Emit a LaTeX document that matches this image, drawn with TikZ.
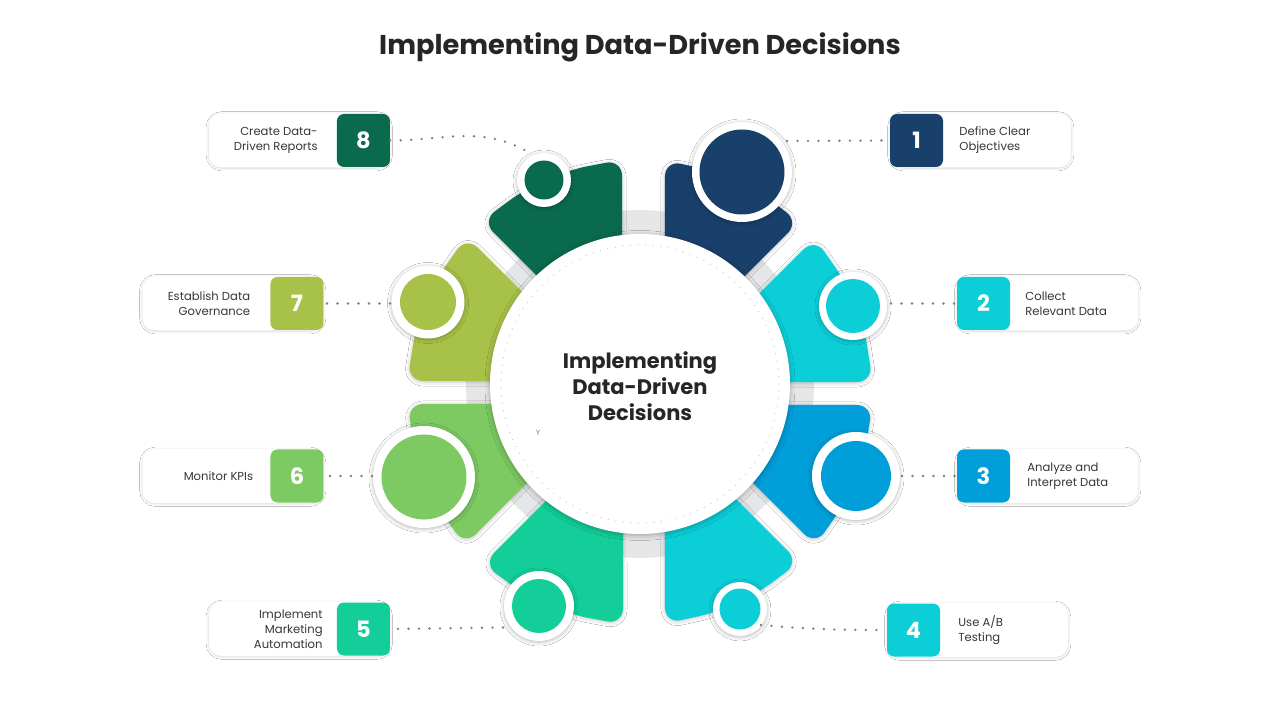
\documentclass[tikz,border=0pt]{standalone}
\usepackage{fontspec}
\setmainfont{Poppins}
\usetikzlibrary{calc,shadows.blur}
\definecolor{cA}{RGB}{25,63,107}
\definecolor{cB}{RGB}{12,206,215}
\definecolor{cC}{RGB}{0,159,217}
\definecolor{cD}{RGB}{12,206,215}
\definecolor{cE}{RGB}{19,206,152}
\definecolor{cF}{RGB}{125,201,98}
\definecolor{cG}{RGB}{168,193,72}
\definecolor{cH}{RGB}{10,106,78}
\definecolor{ringgray}{RGB}{229,230,232}
\definecolor{txt}{RGB}{55,55,55}
\definecolor{ttl}{RGB}{38,38,38}
\definecolor{dotc}{RGB}{125,125,132}
\definecolor{cdot}{RGB}{200,200,204}
\newcommand\mypetal[5]{%
  \pgfmathsetmacro\aA{#2-asin(#3/233)}%
  \pgfmathsetmacro\aB{#4+asin(#5/233)}%
  \pgfmathsetmacro\aM{(\aA-\aB)/3}%
  \fill[#1, petalstyle] ($(#2:60)+(#2-90:#3)$) -- (\aA:233) -- ({\aA-\aM}:233) -- ({\aA-2*\aM}:233) -- (\aB:233) -- ($(#4:60)+(#4+90:#5)$) -- cycle;
}
\begin{document}
\begin{tikzpicture}[x=1pt,y=1pt,
  lbox/.style={rectangle, rounded corners=13pt, fill=white, minimum width=181pt, minimum height=54pt, inner sep=0pt,
    blur shadow={shadow xshift=0pt, shadow yshift=-0.8pt, shadow opacity=16, shadow blur radius=2.6pt}},
  numsq/.style={rectangle, rounded corners=7pt, minimum size=53pt, inner sep=0pt, text=white, font=\fontsize{22.5}{22.5}\selectfont\bfseries},
  ltext/.style={text=txt, font=\fontsize{11.6}{15}\selectfont, inner sep=0pt},
  ringw/.style={circle, fill=white, inner sep=0pt,
    blur shadow={shadow xshift=0pt, shadow yshift=-1pt, shadow opacity=30, shadow blur radius=4pt}},
  disc/.style={circle, inner sep=0pt},
  dotline/.style={draw=dotc, line width=2.6pt, line cap=round, dash pattern=on 0pt off 10.5pt},
  petalstyle/.style={rounded corners=16pt,
    blur shadow={shadow xshift=0pt, shadow yshift=-1pt, shadow opacity=22, shadow blur radius=4pt}}
]
\useasboundingbox (-640,-328) rectangle (640,392);
\fill[white] (-640,-328) rectangle (640,392);

% title
\node[text=ttl, font=\fontsize{27.2}{32}\selectfont\bfseries] (title) at (0,344.5) {Implementing Data-Driven Decisions};

% gray ring
\node[circle, fill=ringgray, minimum size=348pt, inner sep=0pt] (ring) at (0,8) {};

% petals
\mypetal{cA}{90}{25}{45}{7.8}
\mypetal{cB}{45}{14.8}{0}{10}
\mypetal{cC}{0}{13}{-45}{15.6}
\mypetal{cD}{-45}{7.8}{-90}{25}
\mypetal{cE}{-90}{17}{-135}{10.6}
\mypetal{cF}{-135}{15.6}{-180}{12}
\mypetal{cG}{180}{11}{135}{12.7}
\mypetal{cH}{135}{9.2}{90}{18}

% main white circle
\node[circle, fill=white, minimum size=300pt, inner sep=0pt,
  blur shadow={shadow xshift=0pt, shadow yshift=-1.5pt, shadow opacity=30, shadow blur radius=5pt}] (main) at (0,8) {};
\draw[cdot, line width=1.3pt, line cap=round, dash pattern=on 0pt off 7.6pt] (main.center) circle (139);
\node[text=ttl, font=\fontsize{21}{26}\selectfont\bfseries, align=center] (ctext) at (0,6) {Implementing\\Data-Driven\\Decisions};
\node[text=gray, font=\fontsize{7.5}{8}\selectfont] (ysmall) at (-102,-41) {Y};

% petal circles
\node[ringw, minimum size=100pt] (r1) at (102,220) {};
\node[disc, fill=cA, minimum size=85pt] at (r1) {};
\node[ringw, minimum size=68pt] (r2) at (213,86) {};
\node[disc, fill=cB, minimum size=54pt] at (r2) {};
\node[ringw, minimum size=88pt] (r3) at (216,-84) {};
\node[disc, fill=cC, minimum size=70pt] at (r3) {};
\node[ringw, minimum size=54pt] (r4) at (100,-217) {};
\node[disc, fill=cD, minimum size=41pt] at (r4) {};
\node[ringw, minimum size=70pt] (r5) at (-101,-214) {};
\node[disc, fill=cE, minimum size=54pt] at (r5) {};
\node[ringw, minimum size=102pt] (r6) at (-216,-85) {};
\node[disc, fill=cF, minimum size=85pt] at (r6) {};
\node[ringw, minimum size=73pt] (r7) at (-212,90) {};
\node[disc, fill=cG, minimum size=56pt] at (r7) {};
\node[ringw, minimum size=54pt] (r8) at (-96,212) {};
\node[disc, fill=cH, minimum size=39pt] at (r8) {};

% label boxes right
\node[lbox, anchor=west] (b1) at (250,251.5) {};
\node[numsq, fill=cA] (s1) at (276.5,251.5) {1};
\node[ltext, anchor=west, align=left] (t1) at ($(s1.east)+(16,0)$) {Define Clear\\Objectives};

\node[lbox, anchor=west] (b2) at (317,88.5) {};
\node[numsq, fill=cB] (s2) at (343.5,88.5) {2};
\node[ltext, anchor=west, align=left] (t2) at ($(s2.east)+(15,0)$) {Collect\\Relevant Data};

\node[lbox, anchor=west] (b3) at (317,-84) {};
\node[numsq, fill=cC] (s3) at (343.5,-84) {3};
\node[ltext, anchor=west, align=left] (t3) at ($(s3.east)+(17,0)$) {Analyze and\\Interpret Data};

\node[lbox, anchor=west] (b4) at (247,-238) {};
\node[numsq, fill=cD] (s4) at (273.5,-238) {4};
\node[ltext, anchor=west, align=left] (t4) at ($(s4.east)+(18,0)$) {Use A/B\\Testing};

% label boxes left
\node[lbox, anchor=east] (b5) at (-250,-237) {};
\node[numsq, fill=cE] (s5) at (-276.5,-237) {5};
\node[ltext, anchor=east, align=right] (t5) at ($(s5.west)+(-14,0)$) {Implement\\Marketing\\Automation};

\node[lbox, anchor=east] (b6) at (-316.5,-84) {};
\node[numsq, fill=cF] (s6) at (-343,-84) {6};
\node[ltext, anchor=east, align=right] (t6) at ($(s6.west)+(-17,0)$) {Monitor KPIs};

\node[lbox, anchor=east] (b7) at (-316.5,88.5) {};
\node[numsq, fill=cG] (s7) at (-343,88.5) {7};
\node[ltext, anchor=east, align=right] (t7) at ($(s7.west)+(-20,0)$) {Establish Data\\Governance};

\node[lbox, anchor=east] (b8) at (-250,251.5) {};
\node[numsq, fill=cH] (s8) at (-276.5,251.5) {8};
\node[ltext, anchor=east, align=right] (t8) at ($(s8.west)+(-19,0)$) {Create Data-\\Driven Reports};

% connectors
\coordinate (d1) at (147,251);
\coordinate (d2) at (251,88.5);
\coordinate (d3) at (262,-84);
\coordinate (d4) at (121,-233);
\coordinate (d5) at (-137,-235.5);
\coordinate (d6) at (-268,-84);
\coordinate (d7) at (-250,88.5);
\coordinate (d8) at (-112,240);
\draw[dotline] (d1) -- (s1.west);
\draw[dotline] (d2) -- (s2.west);
\draw[dotline] (d3) -- (s3.west);
\draw[dotline] (d4) to[out=-5,in=180] (s4.west);
\draw[dotline] (d5) -- (s5.east);
\draw[dotline] (d6) -- (s6.east);
\draw[dotline] (d7) -- (s7.east);
\draw[dotline] (s8.east) to[out=0,in=150] (d8);
\end{tikzpicture}
\end{document}
